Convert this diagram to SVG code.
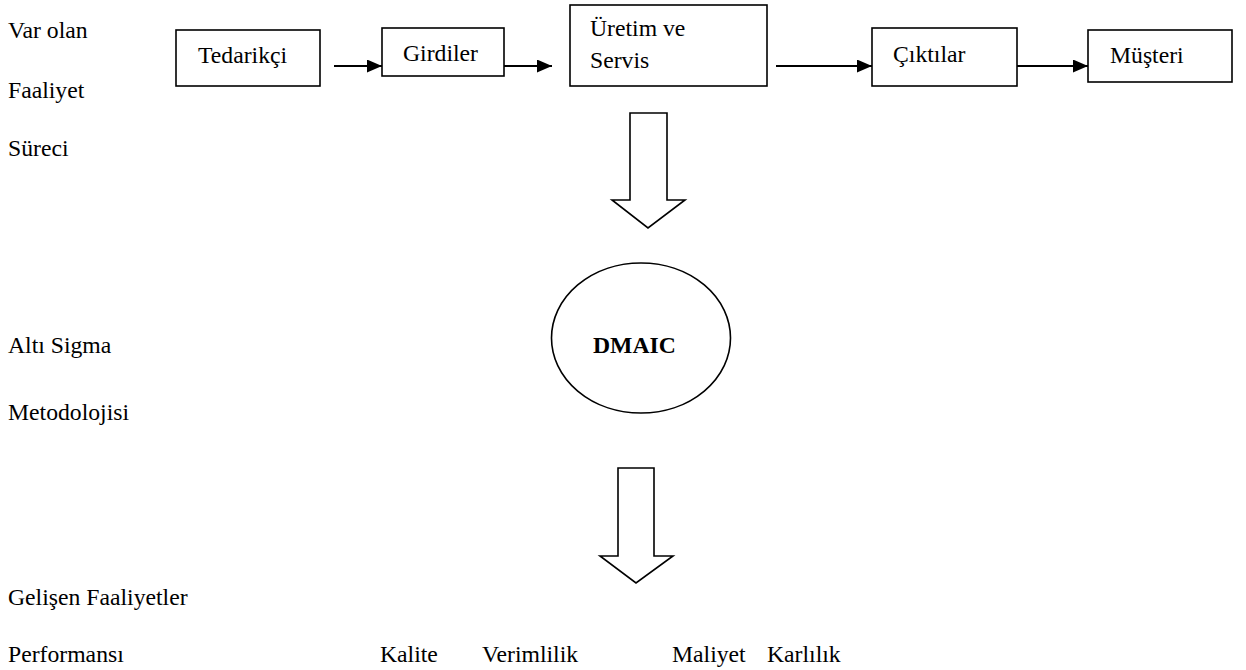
<svg xmlns="http://www.w3.org/2000/svg" width="1246" height="670" viewBox="0 0 1246 670">
<style>
text{font-family:'Liberation Serif','Times New Roman',serif;font-size:23.7px;fill:#000}
.b{font-weight:bold}
.box{fill:#fff;stroke:#000;stroke-width:1.6}
.con{stroke:#000;stroke-width:2;fill:none}
.blk{fill:#fff;stroke:#000;stroke-width:1.6;stroke-linejoin:miter}
</style>
<defs>
<marker id="ah" markerUnits="userSpaceOnUse" markerWidth="15" markerHeight="13" refX="15" refY="6.5" orient="auto">
<path d="M0,0 L15,6.5 L0,13 z" fill="#000"/>
</marker>
</defs>
<rect width="1246" height="670" fill="#fff"/>
<g id="labels">
<text x="8" y="38">Var olan</text>
<text x="8" y="98">Faaliyet</text>
<text x="8" y="156">Süreci</text>
<text x="8" y="353">Altı Sigma</text>
<text x="8" y="420">Metodolojisi</text>
<text x="8" y="605">Gelişen Faaliyetler</text>
<text x="8" y="662">Performansı</text>
<text x="380" y="662">Kalite</text>
<text x="482" y="662">Verimlilik</text>
<text x="672" y="662">Maliyet</text>
<text x="767" y="662">Karlılık</text>
</g>
<g id="tedarikci">
<rect class="box" x="176" y="30" width="144" height="56"/>
<text x="198" y="63">Tedarikçi</text>
</g>
<g id="girdiler">
<rect class="box" x="382" y="28" width="122" height="48"/>
<text x="403" y="61">Girdiler</text>
</g>
<g id="uretim">
<rect class="box" x="570" y="5" width="197" height="81"/>
<text x="590" y="36">Üretim ve</text>
<text x="590" y="68">Servis</text>
</g>
<g id="ciktilar">
<rect class="box" x="872" y="28" width="145" height="58"/>
<text x="893" y="62">Çıktılar</text>
</g>
<g id="musteri">
<rect class="box" x="1088" y="30" width="144" height="52"/>
<text x="1110" y="63">Müşteri</text>
</g>
<g id="dmaic">
<ellipse class="box" cx="641" cy="338" rx="89.5" ry="75"/>
<text class="b" x="593" y="353">DMAIC</text>
</g>
<g id="connectors">
<line class="con" x1="334" y1="66" x2="382" y2="66" marker-end="url(#ah)"/>
<line class="con" x1="504" y1="66" x2="552" y2="66" marker-end="url(#ah)"/>
<line class="con" x1="776" y1="66" x2="872" y2="66" marker-end="url(#ah)"/>
<line class="con" x1="1017" y1="66" x2="1088" y2="66" marker-end="url(#ah)"/>
<path class="blk" d="M630,113 L667,113 L667,200 L685,200 L648,228 L612,200 L630,200 Z"/>
<path class="blk" d="M618,468 L654,468 L654,556 L673,556 L636,583 L600,556 L618,556 Z"/>
</g>
</svg>
